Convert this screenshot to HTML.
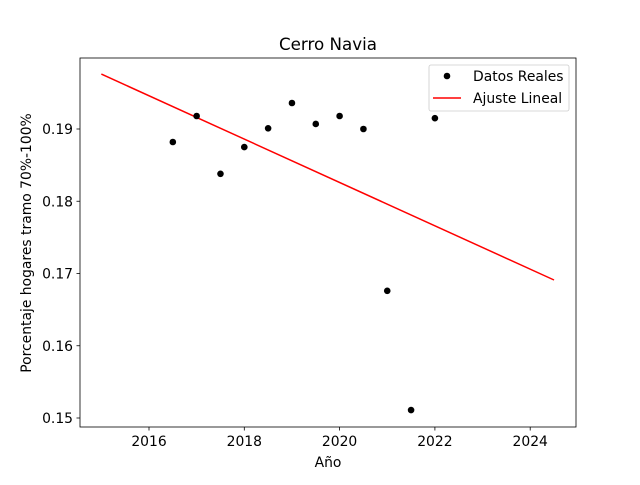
<!DOCTYPE html>
<html><head><meta charset="utf-8"><style>
body{margin:0;background:#fff;font-family:"Liberation Sans","DejaVu Sans",sans-serif}
svg text{font-family:"DejaVu Sans","Liberation Sans",sans-serif;fill:#000}
</style></head><body>
<svg id="chart" width="640" height="480" viewBox="0 0 640 480">
<rect width="640" height="480" fill="#fff"/>
<g id="plot"></g>
</svg>
<script>
const years=[2016.5,2017,2017.5,2018,2018.5,2019,2019.5,2020,2020.5,2021,2021.5,2022];
const values=[0.1882,0.1918,0.1838,0.1875,0.1901,0.1936,0.1907,0.1918,0.1900,0.1676,0.1511,0.1915];
const fitX=[2015,2024.5];
const fitY=[0.1976,0.1691];
const xTicks=[2016,2018,2020,2022,2024];
const yTicks=[0.15,0.16,0.17,0.18,0.19];
const L=80,R=576,T=58,B=427;
const sx=v=>149+(v-2016)*47.65;
const sy=v=>129+(0.19-v)*7225;
const NS="http://www.w3.org/2000/svg";
const g=document.getElementById('plot');
function mk(t,a,txt){const e=document.createElementNS(NS,t);for(const k in a)e.setAttribute(k,a[k]);if(txt!=null)e.textContent=txt;g.appendChild(e);return e;}
let e;
e=mk('line',{x1:sx(fitX[0]),y1:sy(fitY[0]),x2:sx(fitX[1]),y2:sy(fitY[1]),stroke:'#ff0000','stroke-width':1.5});


years.forEach((x,i)=>{const c=mk('circle',{cx:sx(x),cy:sy(values[i]),r:3.3,fill:'#000'});

});
e=mk('rect',{x:L,y:T,width:R-L,height:B-T,fill:'none',stroke:'#000','stroke-width':0.8});


xTicks.forEach(t=>{const x=sx(t);mk('line',{x1:x,y1:B,x2:x,y2:B+3.5,stroke:'#000','stroke-width':0.8});
const tx=mk('text',{x:x,y:B+19,'font-size':13.9,'text-anchor':'middle'},String(t));

});
yTicks.forEach(t=>{const y=sy(t);mk('line',{x1:L,y1:y,x2:L-3.5,y2:y,stroke:'#000','stroke-width':0.8});
const tx=mk('text',{x:L-7,y:y+5,'font-size':13.9,'text-anchor':'end'},t.toFixed(2));

});
e=mk('text',{x:328,y:50,'font-size':16.7,'text-anchor':'middle'},'Cerro Navia');


e=mk('text',{x:328,y:467,'font-size':13.9,'text-anchor':'middle'},'Año');


e=mk('text',{x:31,y:243,'font-size':13.9,'text-anchor':'middle',transform:'rotate(-90 31 243)'},'Porcentaje hogares tramo 70%-100%');


e=mk('rect',{x:429,y:65,width:140,height:46,rx:2,fill:'#fff','fill-opacity':0.8,stroke:'#ccc','stroke-width':0.8});


mk('circle',{cx:447,cy:76,r:3.3,fill:'#000'});
e=mk('text',{x:473,y:81,'font-size':13.9},'Datos Reales');


mk('line',{x1:433,y1:98,x2:461,y2:98,stroke:'#ff0000','stroke-width':1.5});
e=mk('text',{x:473,y:103,'font-size':13.9},'Ajuste Lineal');


</script>
</body></html>
